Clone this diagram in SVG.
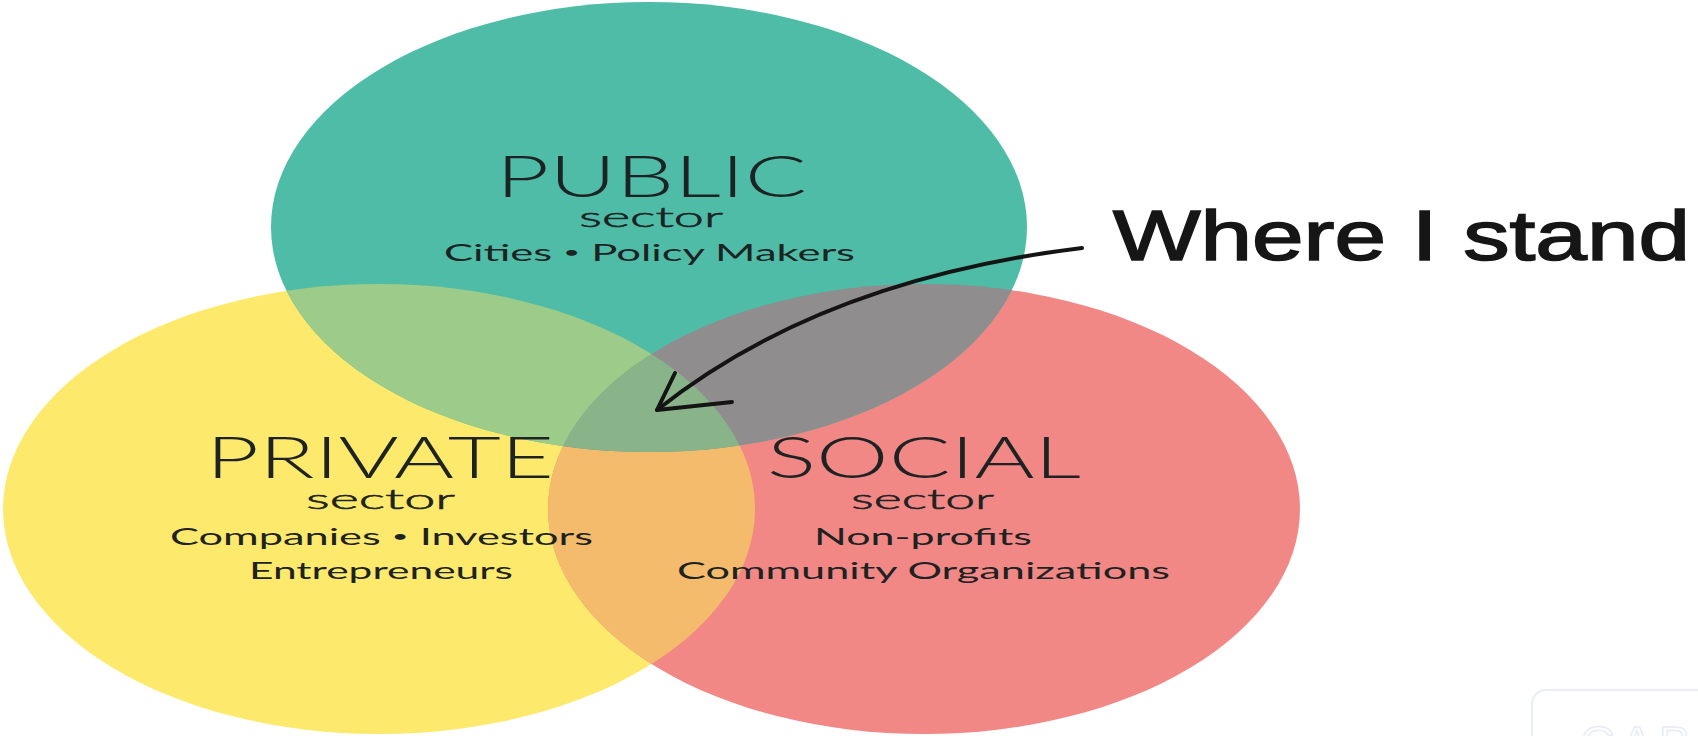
<svg xmlns="http://www.w3.org/2000/svg" width="1698" height="736" viewBox="0 0 1698 736">
<style>
.big{font-family:Lato,"Liberation Sans",sans-serif;font-size:57px;font-weight:300;fill:#1d2222}
.sec{font-family:Lato,"Liberation Sans",sans-serif;font-size:28px;font-weight:300;fill:#1d2222;stroke:#1d2222;stroke-width:0.6}
.sm{font-family:Lato,"Liberation Sans",sans-serif;font-size:24px;font-weight:400;fill:#1d2222}
.dot{font-size:16px}
.hand{font-family:"Liberation Sans",Lato,sans-serif;font-size:70px;font-weight:normal;fill:#161616;stroke:#161616;stroke-width:1.6}
.arrow{fill:none;stroke:#141414;stroke-width:4;stroke-linecap:round;stroke-linejoin:round}
</style>
<defs>
<ellipse id="eT" cx="649" cy="227" rx="378" ry="225"/>
<ellipse id="eY" cx="379" cy="509" rx="376" ry="225"/>
<ellipse id="eR" cx="924" cy="509" rx="376" ry="225"/>
<clipPath id="cY"><use href="#eY"/></clipPath>
<clipPath id="cR"><use href="#eR"/></clipPath>
</defs>
<rect width="1698" height="736" fill="#ffffff"/>
<g id="private">
<use href="#eY" fill="#fde96c"/>
</g>
<g id="social">
<use href="#eR" fill="#f28886"/>
</g>
<g id="public">
<use href="#eT" fill="#4ebca6"/>
</g>
<g id="overlaps">
<use href="#eR" fill="#f4bb6c" clip-path="url(#cY)"/>
<use href="#eT" fill="#9dcb89" clip-path="url(#cY)"/>
<use href="#eT" fill="#8f8d8e" clip-path="url(#cR)"/>
<g clip-path="url(#cY)"><use href="#eT" fill="#89b489" clip-path="url(#cR)"/></g>
</g>
<g id="public-text">
<text class="big" x="496" y="197" textLength="311" lengthAdjust="spacingAndGlyphs">PUBLIC</text>
<text class="sec" x="579" y="227" textLength="144" lengthAdjust="spacingAndGlyphs">sector</text>
<text class="sm" x="444" y="261" textLength="411" lengthAdjust="spacingAndGlyphs">Cities <tspan class="dot" dy="-3">•</tspan><tspan dy="3"> Policy Makers</tspan></text>
</g>
<g id="private-text">
<text class="big" x="206" y="478" textLength="348" lengthAdjust="spacingAndGlyphs">PRIVATE</text>
<text class="sec" x="306" y="509" textLength="149" lengthAdjust="spacingAndGlyphs">sector</text>
<text class="sm" x="170" y="545" textLength="423" lengthAdjust="spacingAndGlyphs">Companies <tspan class="dot" dy="-3">•</tspan><tspan dy="3"> Investors</tspan></text>
<text class="sm" x="249" y="579" textLength="264" lengthAdjust="spacingAndGlyphs">Entrepreneurs</text>
</g>
<g id="social-text">
<text class="big" x="767" y="478" textLength="314" lengthAdjust="spacingAndGlyphs">SOCIAL</text>
<text class="sec" x="851" y="509" textLength="143" lengthAdjust="spacingAndGlyphs">sector</text>
<text class="sm" x="814" y="545" textLength="218" lengthAdjust="spacingAndGlyphs">Non-profits</text>
<text class="sm" x="677" y="579" textLength="493" lengthAdjust="spacingAndGlyphs">Community Organizations</text>
</g>
<g id="connectors">
<path class="arrow" d="M1082 248 Q820 280 657 410"/>
<path class="arrow" d="M675 373 L657 410 L732 402"/>
</g>
<g id="where-i-stand">
<text class="hand" x="1113" y="260" textLength="577" lengthAdjust="spacingAndGlyphs">Where I stand</text>
</g>
<g id="watermark" opacity="0.6">
<rect x="1532" y="690" width="200" height="80" rx="14" fill="none" stroke="#d8e0f2" stroke-width="2"/>
<text x="1580" y="760" font-family="'Liberation Sans',sans-serif" font-size="48" fill="none" stroke="#d8e0f2" stroke-width="1.5" letter-spacing="6">CAB</text>
</g>
</svg>
